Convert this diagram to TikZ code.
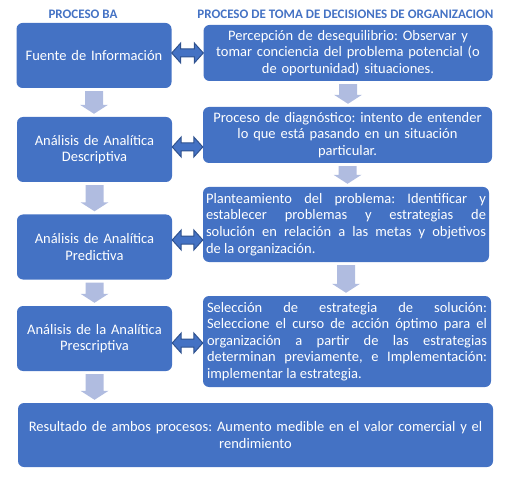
\documentclass[tikz,border=0pt]{standalone}
\usepackage{fontspec}
\setmainfont{Carlito}
\usetikzlibrary{calc}
\frenchspacing

\definecolor{boxblue}{HTML}{4472C4}
\definecolor{boxedge}{HTML}{2F528F}
\definecolor{arrowlight}{HTML}{B0BCE0}

\tikzset{
  procbox/.style={fill=boxblue, rounded corners=6pt, text=white, inner sep=0pt,
                  font=\fontsize{14.5}{16.6}\selectfont},
  leftbox/.style={procbox, minimum width=155pt, minimum height=65pt,
                  text width=150pt, align=center},
  rightbox/.style={procbox, minimum width=289pt, text width=280pt},
  headtext/.style={text=boxblue, font=\bfseries\fontsize{13}{14}\selectfont},
  downblock/.style={fill=arrowlight},
  twinblock/.style={fill=boxblue, draw=boxedge, line width=1pt, line join=miter}
}

% light block arrow pointing down from #1 to #2
\newcommand{\downarrowblock}[2]{%
  \fill[downblock] let \p1=(#1.south), \p2=(#2.north) in
    (\x1-9pt,\y1-3pt) -- (\x1+9pt,\y1-3pt) -- (\x1+9pt,\y2+12pt) --
    (\x1+14pt,\y2+12pt) -- (\x1,\y2+3pt) -- (\x1-14pt,\y2+12pt) --
    (\x1-9pt,\y2+12pt) -- cycle;}

% two-headed block arrow between #1 and #2, shifted down by #3
\newcommand{\twinarrowblock}[3]{%
  \filldraw[twinblock] let \p1=(#1.east), \p2=(#2.west) in
    (\x1,\y1-#3pt) -- (\x1+9pt,\y1-#3pt+10pt) -- (\x1+9pt,\y1-#3pt+4pt) --
    (\x2-9pt,\y1-#3pt+4pt) -- (\x2-9pt,\y1-#3pt+10pt) -- (\x2,\y1-#3pt) --
    (\x2-9pt,\y1-#3pt-10pt) -- (\x2-9pt,\y1-#3pt-4pt) --
    (\x1+9pt,\y1-#3pt-4pt) -- (\x1+9pt,\y1-#3pt-10pt) -- cycle;}

\begin{document}
\begin{tikzpicture}[x=1pt, y=-1pt]
  \useasboundingbox (0,0) rectangle (508,478);

  % headers
  \node[headtext] (hba) at (83,14) {PROCESO BA};
  \node[headtext] (hdec) at (345.5,14) {PROCESO DE TOMA DE DECISIONES DE ORGANIZACION};

  % BA process
  \node[leftbox] (l1) at (94,55.5) {Fuente de Información};
  \node[leftbox] (l2) at (94.5,149.5) {Análisis de Analítica\\Descriptiva};
  \node[leftbox] (l3) at (94.5,247) {Análisis de Analítica\\Predictiva};
  \node[leftbox] (l4) at (94.5,338.5) {Análisis de la Analítica\\Prescriptiva};

  % decision process
  \node[rightbox, minimum height=56pt, align=center] (r1) at (348,53)
    {Percepción de desequilibrio: Observar y\\tomar conciencia del problema potencial (o\\de oportunidad) situaciones.};
  \node[rightbox, minimum height=56pt, align=center] (r2) at (347.5,135)
    {Proceso de diagnóstico: intento de entender\\lo que está pasando en un situación\\particular.};
  \node[rightbox, minimum width=286pt, minimum height=75pt, align=justify] (r3) at (346,224.5)
    {Planteamiento del problema: Identificar y\linebreak establecer problemas y estrategias de\linebreak solución en relación a las metas y objetivos\linebreak de la organización.};
  \node[rightbox, minimum width=288pt, minimum height=91pt, align=justify] (r4) at (347,341.5)
    {Selección de estrategia de solución:\linebreak Seleccione el curso de acción óptimo para el\linebreak organización a partir de las estrategias\linebreak determinan previamente, e Implementación:\linebreak implementar la estrategia.};

  % result
  \node[procbox, minimum width=475pt, minimum height=64pt, text width=465pt, align=center] (res) at (255.5,435)
    {Resultado de ambos procesos: Aumento medible en el valor comercial y el\\rendimiento};

  % arrows
  \downarrowblock{l1}{l2}
  \downarrowblock{l2}{l3}
  \downarrowblock{l3}{l4}
  \downarrowblock{r1}{r2}
  \downarrowblock{r2}{r3}
  \downarrowblock{r3}{r4}
  \downarrowblock{l4}{res}
  \twinarrowblock{l1}{r1}{-2.5}
  \twinarrowblock{l2}{r2}{-2.5}
  \twinarrowblock{l3}{r3}{-7}
  \twinarrowblock{l4}{r4}{4.5}
\end{tikzpicture}
\end{document}
